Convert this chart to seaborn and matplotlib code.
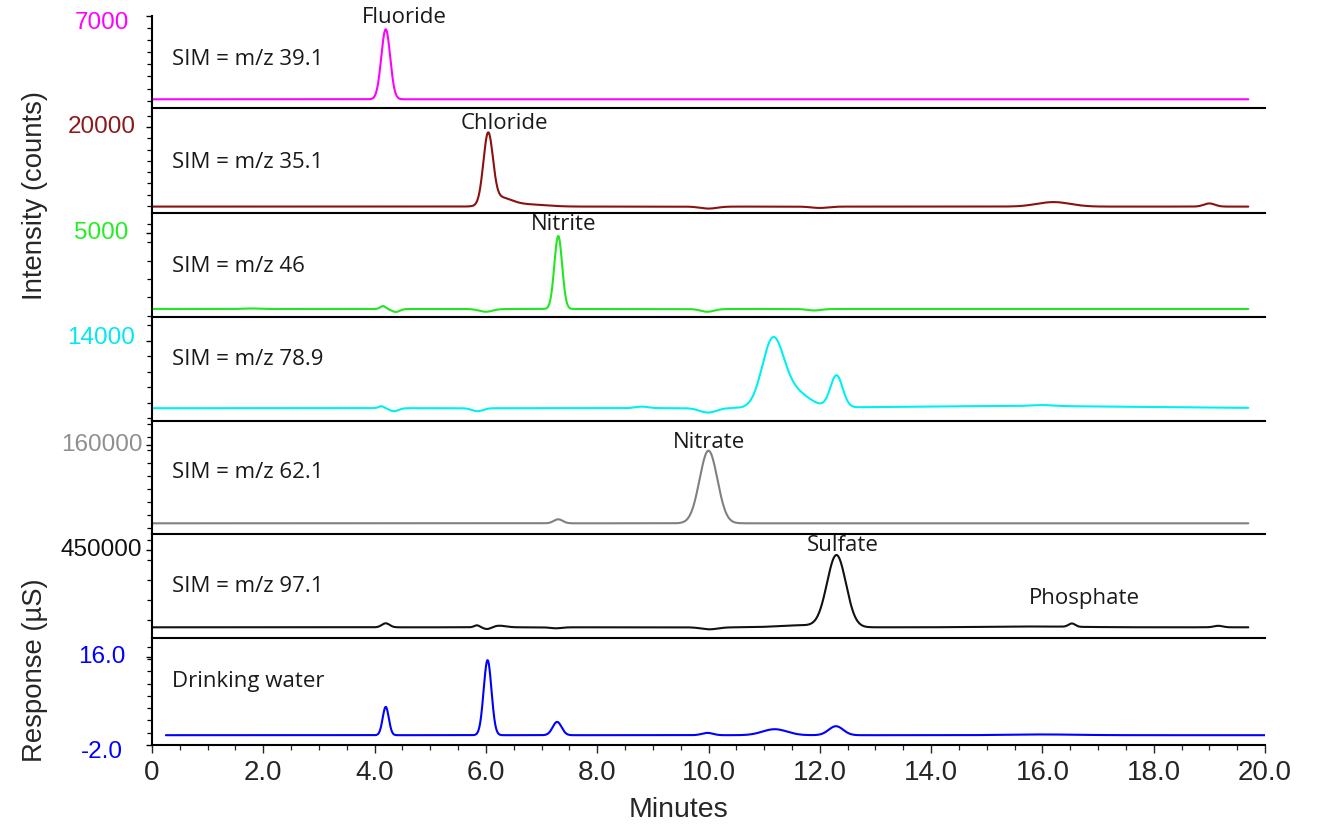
import numpy as np
import pandas as pd
import matplotlib
matplotlib.use("Agg")
import matplotlib.pyplot as plt
import seaborn as sns
from matplotlib.ticker import MultipleLocator, FixedLocator, NullFormatter, FuncFormatter
from matplotlib.transforms import blended_transform_factory, ScaledTranslation

# ---------------------------------------------------------------------------
# Chromatogram data: each trace is a baseline level plus a peak table
# (retention time in min, height above baseline, peak sigma in min).
# ---------------------------------------------------------------------------
sim_range = (0.0, 19.7)          # MS (SIM) acquisition window, min
cd_range = (0.25, 20.0)          # conductivity acquisition window, min

# SIM m/z 39.1 (fluoride)
f_base = 116
f_rt = [4.20]
f_ht = [5785]
f_sd = [0.08]

# SIM m/z 35.1 (chloride, with tailing)
cl_base = 2390
cl_rt = [6.04, 6.25, 6.70, 10.00, 12.00, 16.20, 19.00]
cl_ht = [15300, 1800, 500, -440, -300, 1000, 700]
cl_sd = [0.085, 0.20, 0.35, 0.15, 0.15, 0.30, 0.10]

# SIM m/z 46 (nitrite)
no2_base = 863
no2_rt = [1.80, 4.15, 4.38, 6.00, 7.30, 9.98, 11.90]
no2_ht = [30, 160, -160, -150, 3990, -150, -80]
no2_sd = [0.15, 0.05, 0.07, 0.12, 0.07, 0.12, 0.12]

# SIM m/z 78.9
br_base = 5290
br_rt = [4.12, 4.35, 5.85, 8.80, 9.99, 11.15, 11.50, 12.30, 15.50, 16.00]
br_ht = [260, -390, -390, 200, -570, 8100, 2200, 4120, 280, 130]
br_sd = [0.05, 0.08, 0.10, 0.12, 0.15, 0.19, 0.28, 0.11, 2.2, 0.20]

# SIM m/z 62.1 (nitrate)
no3_base = 9420
no3_rt = [7.30, 10.00]
no3_ht = [7700, 139600]
no3_sd = [0.08, 0.16]

# SIM m/z 97.1 (sulfate, phosphate)
so4_base = 63500
so4_rt = [4.20, 5.84, 6.03, 6.24, 7.26, 10.02, 11.67, 12.30, 15.80, 16.53, 19.16]
so4_ht = [20000, 10000, -10000, 8000, -5000, -10000, 10000, 358600, 4000, 16500, 7500]
so4_sd = [0.07, 0.05, 0.07, 0.12, 0.10, 0.15, 0.40, 0.17, 0.80, 0.06, 0.08]

# Suppressed conductivity, drinking water sample (uS)
cd_base = 0.0
cd_rt = [4.20, 6.03, 7.28, 9.98, 11.19, 12.29, 16.00]
cd_ht = [5.77, 15.29, 2.71, 0.47, 1.22, 1.83, 0.15]
cd_sd = [0.055, 0.07, 0.08, 0.10, 0.22, 0.13, 0.60]

trace_names = ["SIM = m/z 39.1", "SIM = m/z 35.1", "SIM = m/z 46", "SIM = m/z 78.9",
               "SIM = m/z 62.1", "SIM = m/z 97.1", "Drinking water"]
axis_top_labels = ["7000", "20000", "5000", "14000", "160000", "450000", "16.0"]
axis_top_values = [7000, 20000, 5000, 14000, 160000, 450000, 16.0]

peak_names = ["Fluoride", "Chloride", "Nitrite", "Nitrate", "Sulfate", "Phosphate"]
peak_panel = [0, 1, 2, 4, 5, 5]
peak_label_x = [4.53, 6.34, 7.39, 10.01, 12.42, 16.75]


def chromatogram(t, base, rt, ht, sd):
    y = np.full_like(t, float(base))
    for r, h, s in zip(rt, ht, sd):
        y += h * np.exp(-0.5 * ((t - r) / s) ** 2)
    return y


t_sim = np.linspace(sim_range[0], sim_range[1], 4000)
t_cd = np.linspace(cd_range[0], cd_range[1], 4000)

traces = [
    (t_sim, chromatogram(t_sim, f_base, f_rt, f_ht, f_sd)),
    (t_sim, chromatogram(t_sim, cl_base, cl_rt, cl_ht, cl_sd)),
    (t_sim, chromatogram(t_sim, no2_base, no2_rt, no2_ht, no2_sd)),
    (t_sim, chromatogram(t_sim, br_base, br_rt, br_ht, br_sd)),
    (t_sim, chromatogram(t_sim, no3_base, no3_rt, no3_ht, no3_sd)),
    (t_sim, chromatogram(t_sim, so4_base, so4_rt, so4_ht, so4_sd)),
    (t_cd, chromatogram(t_cd, cd_base, cd_rt, cd_ht, cd_sd)),
]

# ---------------------------------------------------------------------------
# Layout and styling
# ---------------------------------------------------------------------------
sns.set_style("white")
plt.rcParams["font.family"] = ["Liberation Sans", "DejaVu Sans"]

W, H = 1321, 826
fig = plt.figure(figsize=(W / 100, H / 100), dpi=100)

x0, x1 = 152, 1265
panel_px = [(16, 107.7), (107.7, 213.3), (213.3, 316.5), (316.5, 420.7),
            (420.7, 534), (534, 638.3), (638.3, 745)]
ylims = [(-579, 7000), (907, 24270), (454, 6093), (3677, 17123),
         (-11150, 206730), (8500, 530000), (-2.0, 19.75)]
minor_steps = [(1000, 0), (2500, 0), (1000, 500), (2000, 0),
               (25000, 0), (100000, 0), (2.5, -2.0)]
line_colors = ["#FF00FF", "#8B1111", "#22E622", "#00F0F0", "#808080", "#111111", "#0000FF"]
label_colors = ["#FF00FF", "#8B1A1A", "#22EE22", "#00E8F0", "#8F8F8F", "#111111", "#0000FF"]
top_label_nudge = [-7, 0, 0, 2.4, 0, 0, 0]      # px
text_y = [0.53, 0.48, 0.485, 0.585, 0.54, 0.495, 0.595]
peak_label_y = [0.984, 0.855, 0.887, 0.812, 0.885, 0.386]

sans = ["Liberation Sans", "DejaVu Sans"]
text_font = ["Open Sans", "DejaVu Sans"]
text_fs = 16
ytick_fs = 17.5
xtick_fs = 20
title_fs = 20.5
label_x_fig = 101.5 / W

axes = []
for i, ((top, bot), (t, y)) in enumerate(zip(panel_px, traces)):
    ax = fig.add_axes([x0 / W, 1 - bot / H, (x1 - x0) / W, (bot - top) / H])
    axes.append(ax)
    df = pd.DataFrame({"time": t, "signal": y})
    sns.lineplot(data=df, x="time", y="signal", ax=ax, color=line_colors[i],
                 linewidth=1.5, estimator=None, sort=False)
    ax.set_xlim(0, 20)
    ax.set_ylim(*ylims[i])
    ax.set_xlabel("")
    ax.set_ylabel("")
    ax.set_facecolor("none")

    for side in ("top", "right"):
        ax.spines[side].set_visible(False)
    for side in ("left", "bottom"):
        ax.spines[side].set_visible(True)
        ax.spines[side].set_color("black")
        ax.spines[side].set_linewidth(1.5)

    # y ticks: one labelled value plus minor ticks, labels centred to the left
    majors = [axis_top_values[i]] if i < 6 else [-2.0, 16.0]
    ax.yaxis.set_major_locator(FixedLocator(majors))
    ax.yaxis.set_major_formatter(NullFormatter())
    step, off = minor_steps[i]
    ax.yaxis.set_minor_locator(MultipleLocator(step, offset=off))
    ax.tick_params(axis="y", which="major", direction="out", length=4.2, width=1.0,
                   color="black", left=True)
    ax.tick_params(axis="y", which="minor", direction="out", length=3.6, width=0.9,
                   color="black", left=True)

    ytrans = blended_transform_factory(fig.transFigure, ax.transData)
    ax.text(label_x_fig, axis_top_values[i], axis_top_labels[i],
            transform=ytrans + ScaledTranslation(0, top_label_nudge[i] / 100, fig.dpi_scale_trans),
            ha="center", va="center", fontsize=ytick_fs, color=label_colors[i], family=sans)
    if i == 6:
        ax.text(label_x_fig, -2.0, "-2.0",
                transform=ytrans + ScaledTranslation(0, -6.7 / 100, fig.dpi_scale_trans),
                ha="center", va="center", fontsize=ytick_fs, color=label_colors[i], family=sans)

    ax.text(0.36, text_y[i], trace_names[i], transform=ax.get_xaxis_transform(),
            ha="left", va="center", fontsize=text_fs, color="#1a1a1a", family=text_font)

    if i < 6:
        ax.tick_params(axis="x", which="both", bottom=False, labelbottom=False)

# Peak names
for name, p, lx, ly in zip(peak_names, peak_panel, peak_label_x, peak_label_y):
    ax = axes[p]
    ax.text(lx, ly, name, transform=ax.get_xaxis_transform(), ha="center", va="center",
            fontsize=text_fs, color="#1a1a1a", family=text_font, clip_on=False)

# Time axis on the bottom panel
axb = axes[-1]
axb.xaxis.set_major_locator(MultipleLocator(2.0))
axb.xaxis.set_minor_locator(MultipleLocator(0.5))
axb.xaxis.set_major_formatter(FuncFormatter(lambda v, pos: "0" if abs(v) < 1e-9 else f"{v:.1f}"))
axb.tick_params(axis="x", which="major", direction="out", length=5.5, width=1.0,
                labelsize=xtick_fs, pad=5, bottom=True, labelbottom=True)
axb.tick_params(axis="x", which="minor", direction="out", length=3.5, width=0.9, bottom=True)
for lab in axb.get_xticklabels():
    lab.set_family(sans)

fig.text(678 / W, 1 - 810 / H, "Minutes", ha="center", va="center", fontsize=title_fs,
         family=sans)
fig.text(35 / W, 1 - 195 / H, "Intensity (counts)", rotation=90, ha="center", va="center",
         fontsize=19.8, family=sans)
fig.text(35 / W, 1 - 670 / H, "Response (µS)", rotation=90, ha="center", va="center",
         fontsize=19.8, family=sans)

fig.savefig("out.png", dpi=100, facecolor="white")
